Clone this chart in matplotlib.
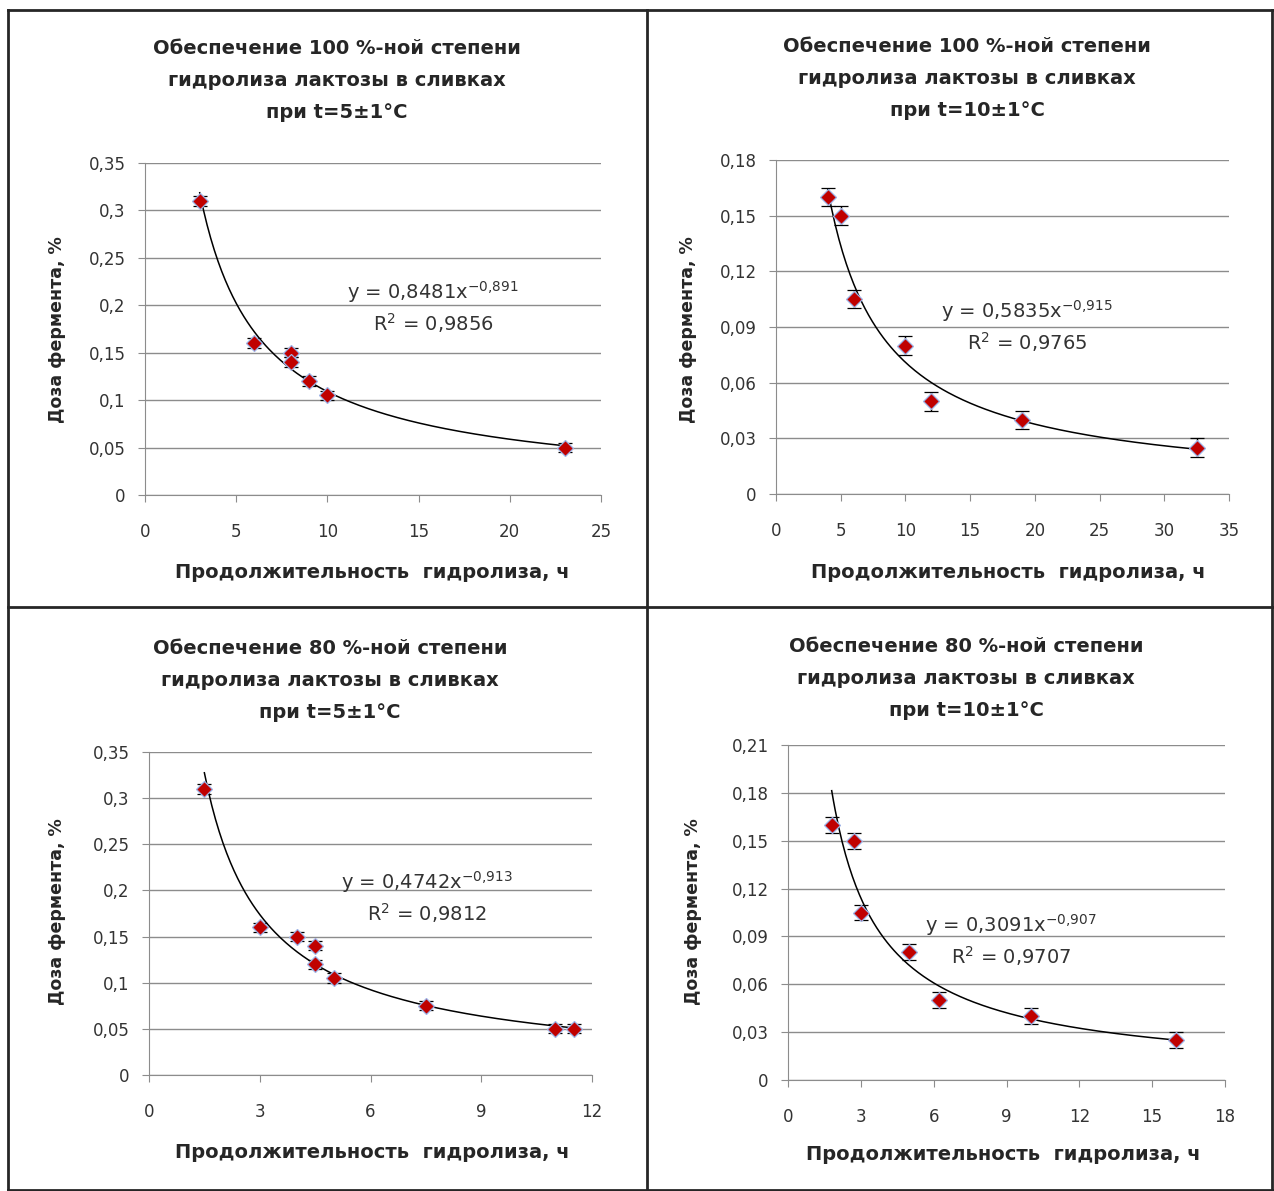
import matplotlib.pyplot as plt
from matplotlib.lines import Line2D
import numpy as np

plt.rcParams['font.family'] = ['DejaVu Sans']

# Панель 1: 100 %, t=5
x1 = [3, 6, 8, 8, 9, 10, 23]
y1 = [0.31, 0.16, 0.15, 0.14, 0.12, 0.105, 0.05]
# Панель 2: 100 %, t=10
x2 = [4, 5, 6, 10, 12, 19, 32.5]
y2 = [0.16, 0.15, 0.105, 0.08, 0.05, 0.04, 0.025]
# Панель 3: 80 %, t=5
x3 = [1.5, 3, 4, 4.5, 4.5, 5, 7.5, 11, 11.5]
y3 = [0.31, 0.16, 0.15, 0.14, 0.12, 0.105, 0.075, 0.05, 0.05]
# Панель 4: 80 %, t=10
x4 = [1.8, 2.7, 3, 5, 6.2, 10, 16]
y4 = [0.16, 0.15, 0.105, 0.08, 0.05, 0.04, 0.025]

err = 0.005

# коэффициенты степенных трендов
coef = [(0.8481, -0.891, '0,9856'), (0.5835, -0.915, '0,9765'),
        (0.4742, -0.913, '0,9812'), (0.3091, -0.907, '0,9707')]

titles = [['Обеспечение 100 %-ной степени', 'гидролиза лактозы в сливках', 'при t=5±1°C'],
          ['Обеспечение 100 %-ной степени', 'гидролиза лактозы в сливках', 'при t=10±1°C'],
          ['Обеспечение 80 %-ной степени', 'гидролиза лактозы в сливках', 'при t=5±1°C'],
          ['Обеспечение 80 %-ной степени', 'гидролиза лактозы в сливках', 'при t=10±1°C']]

xticks = [[0, 5, 10, 15, 20, 25], [0, 5, 10, 15, 20, 25, 30, 35],
          [0, 3, 6, 9, 12], [0, 3, 6, 9, 12, 15, 18]]
yticks = [[0, 0.05, 0.1, 0.15, 0.2, 0.25, 0.3, 0.35],
          [0, 0.03, 0.06, 0.09, 0.12, 0.15, 0.18],
          [0, 0.05, 0.1, 0.15, 0.2, 0.25, 0.3, 0.35],
          [0, 0.03, 0.06, 0.09, 0.12, 0.15, 0.18, 0.21]]

W, H = 1274, 1191
fig = plt.figure(figsize=(W / 100, H / 100), dpi=100)

def fx(px):
    return px / W

def fy(py):
    return 1 - py / H

# положение осей в пикселях: left, right, top, bottom
boxes = [(145, 601, 163, 495), (776, 1229, 160, 494),
         (149, 592, 752, 1075), (788, 1225, 745, 1080)]
title_pos = [(337, 48), (967, 46), (330, 649), (966, 647)]
xlab_pos = [(372, 572), (1008, 572), (372, 1152), (1003, 1155)]
ylab_pos = [(57, 330), (688, 330), (57, 912), (693, 912)]
eq_pos = [(15.8, 0.214, 0.181), (19.4, 0.0987, 0.0819),
          (7.53, 0.209, 0.1755), (9.18, 0.0972, 0.0777)]

data = [(x1, y1), (x2, y2), (x3, y3), (x4, y4)]
txt = '#333333'

def fmt(v):
    return ('%g' % v).replace('.', ',')

for i in range(4):
    l, r, t, b = boxes[i]
    ax = fig.add_axes([fx(l), fy(b), fx(r) - fx(l), fy(t) - fy(b)])
    xs, ys = data[i]
    a, k, r2 = coef[i]
    xt = np.linspace(min(xs), max(xs), 200)
    ax.plot(xt, a * xt ** k, color='black', lw=1.1, zorder=2)
    ax.errorbar(xs, ys, yerr=err, fmt='D', ms=8, mfc='#c00000', mec='#9db4e8',
                mew=0.9, ecolor='black', elinewidth=1, capsize=5, capthick=1, zorder=3)
    ax.set_xlim(xticks[i][0], xticks[i][-1])
    ax.set_ylim(yticks[i][0], yticks[i][-1])
    ax.set_xticks(xticks[i])
    ax.set_yticks(yticks[i])
    ax.set_xticklabels([fmt(v) for v in xticks[i]], fontsize=12, color=txt)
    ax.set_yticklabels([fmt(v) for v in yticks[i]], fontsize=12, color=txt)
    ax.grid(axis='y', color='#8c8c8c', lw=1)
    ax.set_axisbelow(True)
    for s in ['top', 'right']:
        ax.spines[s].set_visible(False)
    for s in ['left', 'bottom']:
        ax.spines[s].set_color('#8c8c8c')
    ax.tick_params(length=5, color='#8c8c8c')
    ax.tick_params(axis='x', pad=15)
    ax.tick_params(axis='y', pad=9)
    ex, ey1, ey2 = eq_pos[i]
    ax.text(ex, ey1, 'y = ' + fmt(a) + 'x$^{\\mathregular{' + fmt(k).replace(',', '{,}') + '}}$',
            ha='center', va='center', fontsize=14, color=txt)
    ax.text(ex, ey2, 'R$^{\\mathregular{2}}$ = ' + r2, ha='center', va='center', fontsize=14,
            color=txt)

    tx, ty = title_pos[i]
    for j, line in enumerate(titles[i]):
        fig.text(fx(tx), fy(ty + 32 * j), line, ha='center', va='center',
                 fontsize=14, fontweight='bold', color='#262626')
    lx, ly = xlab_pos[i]
    fig.text(fx(lx), fy(ly), 'Продолжительность  гидролиза, ч', ha='center', va='center',
             fontsize=14, fontweight='bold', color='#262626')
    yx, yy = ylab_pos[i]
    fig.text(fx(yx), fy(yy), 'Доза фермента, %', ha='center', va='center', rotation=90,
             fontsize=12.5, fontweight='bold', color='#262626')

# рамка таблицы
for xa, ya in [((8, 8), (10, 1191)), ((8, 1274), (10, 10)), ((647, 647), (10, 1191)),
               ((8, 1274), (607, 607)), ((1272, 1272), (10, 1191)), ((8, 1274), (1190, 1190))]:
    fig.add_artist(Line2D([fx(xa[0]), fx(xa[1])], [fy(ya[0]), fy(ya[1])],
                          color='#262626', lw=2))

fig.savefig('out.png', dpi=100)
